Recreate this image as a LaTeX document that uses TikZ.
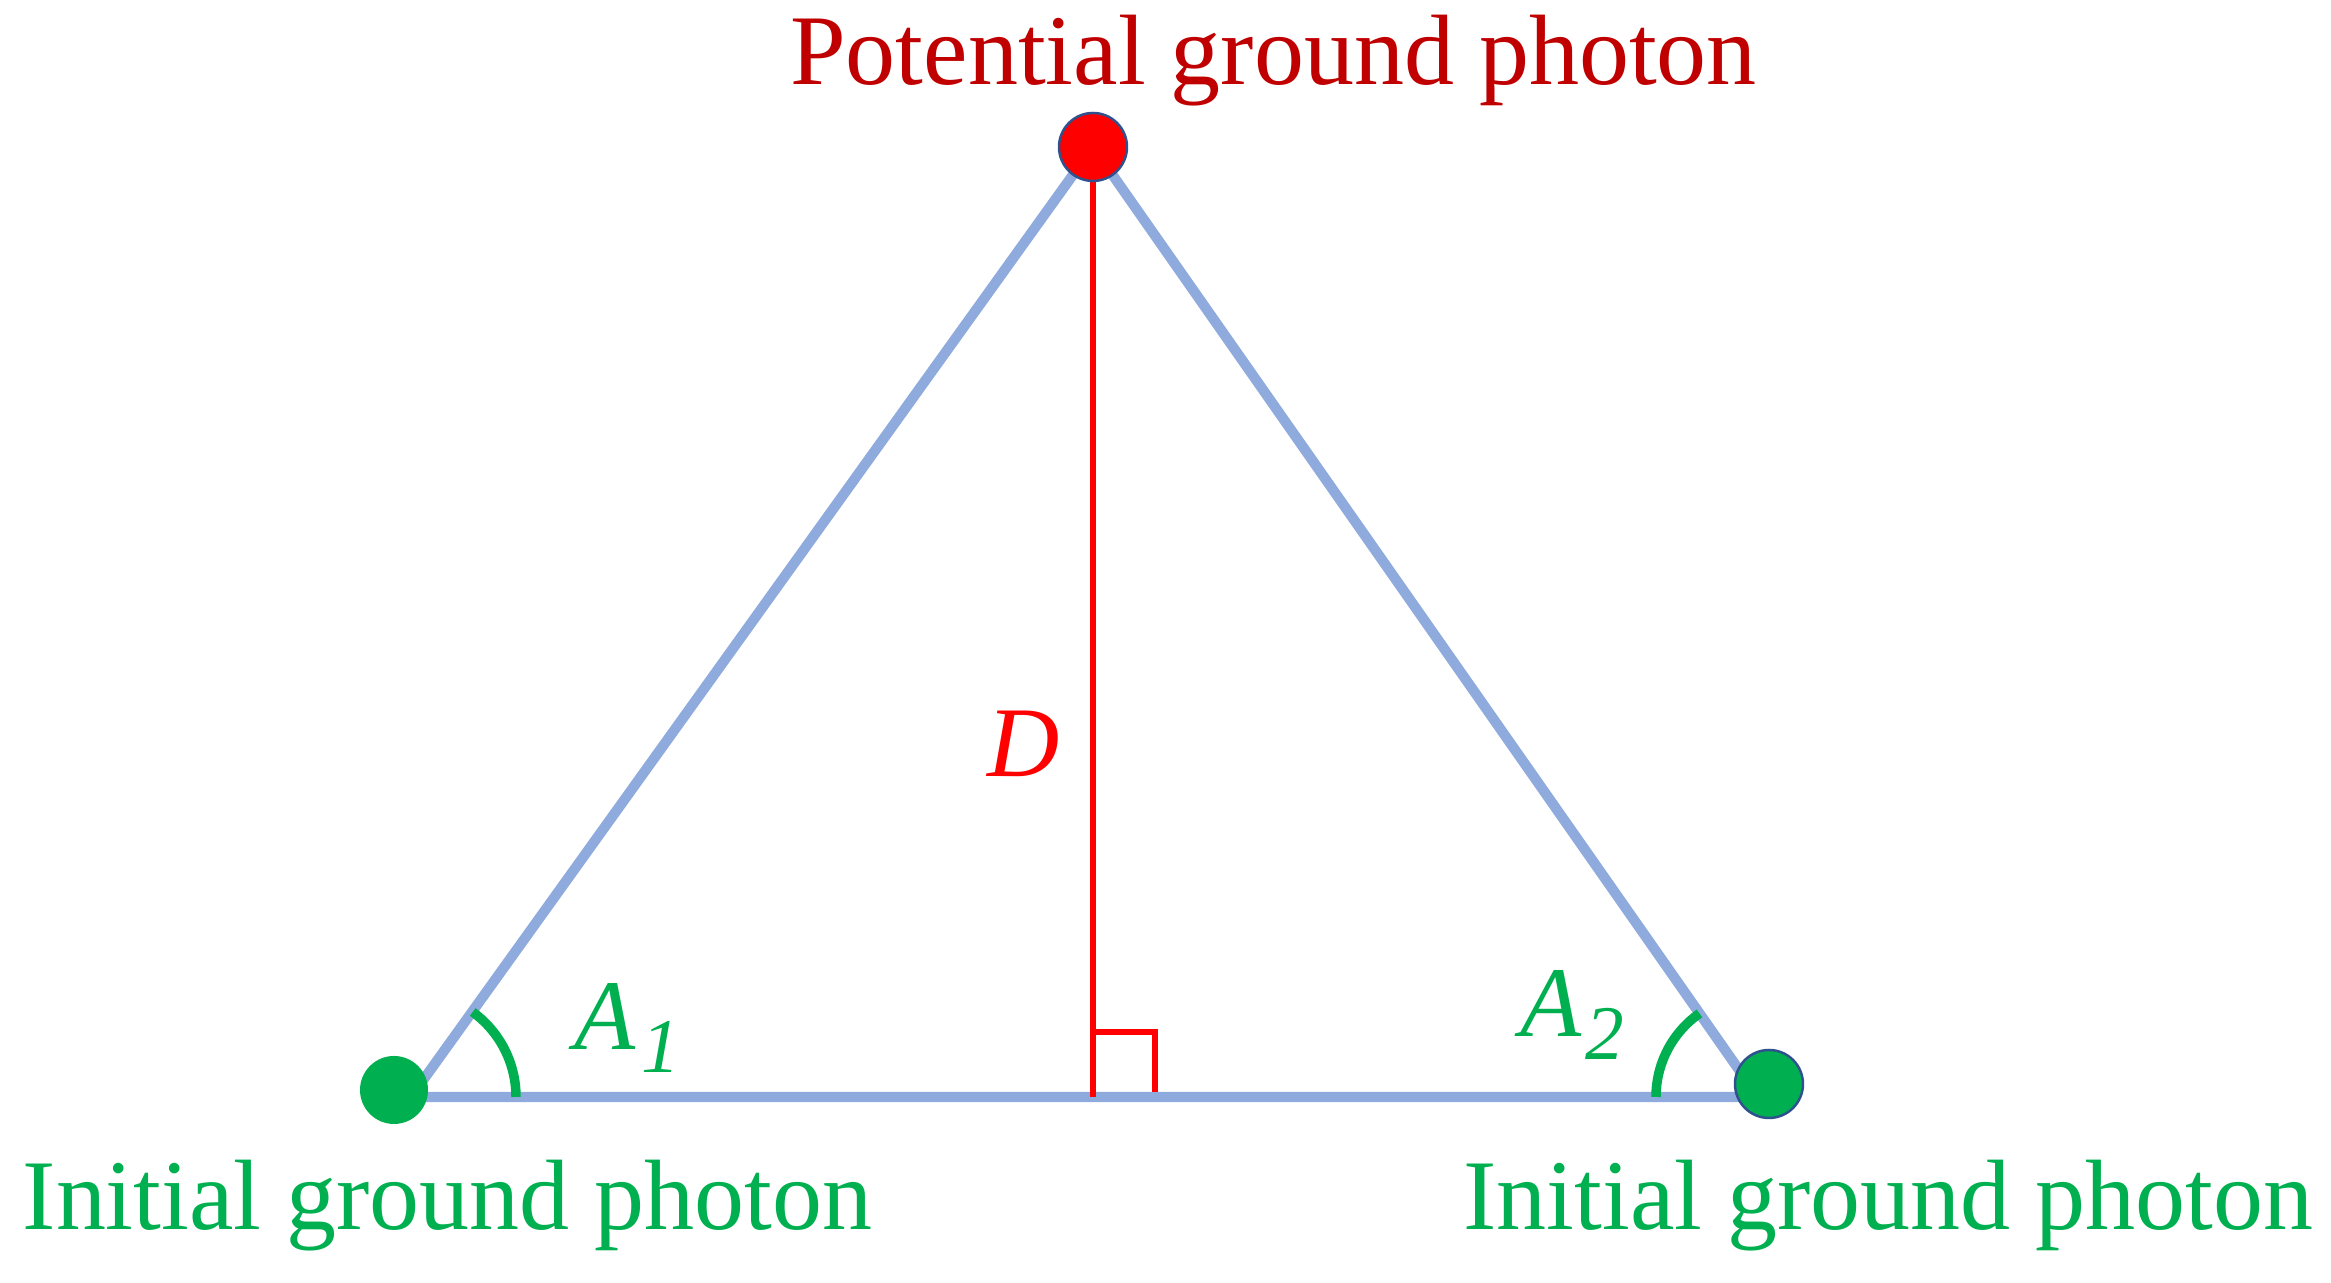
\documentclass[tikz,border=0pt]{standalone}
\usepackage{fontspec}
\setmainfont{Liberation Serif}
\usetikzlibrary{positioning}
\definecolor{sideblue}{HTML}{8FAADC}
\definecolor{dotgreen}{HTML}{00B050}
\definecolor{darkred}{HTML}{C00000}
\definecolor{rimblue}{HTML}{2F528F}
\tikzset{gdot/.style={circle,fill=dotgreen,inner sep=0pt,minimum size=6.8mm},
	 rdot/.style={circle,draw=rimblue,line width=0.7pt,inner sep=0pt,minimum size=6.8mm},
	 side/.style={draw=sideblue,line width=2.9pt},
	 hgt/.style={draw=red,line width=1.7pt},
	 ang/.style={draw=dotgreen,line width=2.7pt},
	 lbl/.style={font=\fontsize{28.45}{34}\selectfont,inner sep=0pt},
	 node distance = 1
	 }

\begin{document}
\begin{tikzpicture} % triangle of photons
	\useasboundingbox (0,0) rectangle (23.31,12.83);
	\coordinate (vT) at (10.93,11.36);
	\coordinate (vL) at (4.11,1.86);
	\coordinate (vR) at (17.58,1.86);
	\coordinate (foot) at (10.93,1.86);
	\coordinate (sq1) at (10.93,2.51);
	\coordinate (sq2) at (11.55,2.51);
	\coordinate (sq3) at (11.55,1.91);
	\draw[side] (vL) to (vT) to (vR) to (vL);
	\draw[hgt] (vT) to (foot);
	\draw[hgt,line width=1.5pt] (sq1) to (sq2) to (sq3);
	\draw[ang] (vL) ++(1.05,0) arc[start angle=0,end angle=54,radius=1.05];
	\draw[ang] (vR) ++(-1.02,0) arc[start angle=180,end angle=125,radius=1.02];
	\node[rdot,fill=red] (top) at (10.93,11.36) {};
	\node[gdot] (left) at (3.94,1.93) {};
	\node[gdot,draw=rimblue,line width=0.7pt] (right) at (17.69,1.99) {};
	\node[lbl,text=darkred,anchor=base] (tlab) at (12.735,11.98) {Potential ground photon};
	\node[lbl,text=dotgreen,anchor=base west] (llab) at (0.22,0.53) {Initial ground photon};
	\node[lbl,text=dotgreen,anchor=base east] (rlab) at (23.14,0.53) {Initial ground photon};
	\node[lbl,text=red,anchor=base] (dlab) at (10.24,5.06) {\textit{D}};
	\node[lbl,text=dotgreen,anchor=base west] (a1) at (5.74,2.33) {\textit{A}\kern0.05em\raisebox{-0.23em}{\fontsize{22}{24}\selectfont\textit{1}}};
	\node[lbl,text=dotgreen,anchor=base west] (a2) at (15.2,2.46) {\textit{A}\kern0.03em\raisebox{-0.23em}{\fontsize{22}{24}\selectfont\textit{2}}};
\end{tikzpicture}
\end{document}
